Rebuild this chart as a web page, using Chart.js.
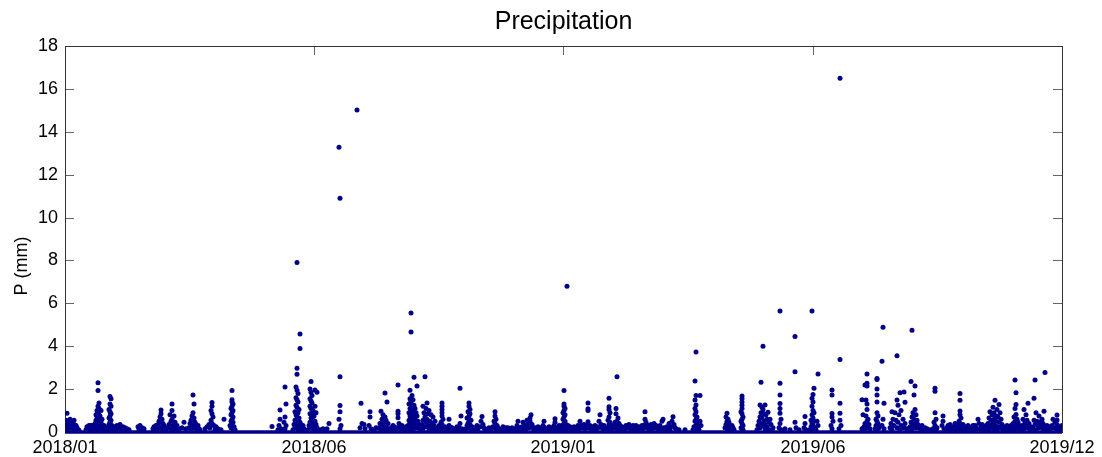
<!DOCTYPE html>
<html lang="en">
<head>
<meta charset="UTF-8">
<title>Precipitation</title>
<script src="https://cdn.jsdelivr.net/npm/chart.js"></script>
<style>
  body { margin: 0; background: #fff; }
</style>
</head>
<body>
<canvas id="grafico" width="1102" height="457"></canvas>

<script>
// eixo x: indice de tempo (0..997), rotulos em 5 posicoes iguais
const tickPos = [0, 249, 498, 748, 997];
const tickLabels = ['2018/01', '2018/06', '2019/01', '2019/06', '2019/12'];
const yTicks = [0, 2, 4, 6, 8, 10, 12, 14, 16, 18];

// horas secas (faixa em P = 0)
const dryHours = [[0, 0], [997, 0]];

// chuva: [t, P em mm]
const rainJanMay18 = [
  [0,0.3],[1,0.55],[2,0.87],[2,0.15],[3,0.45],[4,0.3],[5,0.6],[6,0.2],[7,0.5],[8,0.15],[9,0.35],[10,0.1],[11,0.3],[12,0.2],[13,0.12],[14,0.08],[3,0.1],[6,0.4],[9,0.55],[8,0.3],
  [21,0.1],[22,0.25],[24,0.3],[25,0.1],[26,0.2],[28,0.15],
  [26,0.3],[27,0.3],[28,0.1],[29,0.25],[30,0.4],[31,0.15],[31,0.55],[31,0.8],[32,0.3],[32,0.7],[32,1.0],[33,2.3],[33,1.93],[33,1.2],[33,0.9],[33,0.5],[34,1.35],[34,1.1],[34,0.8],[34,0.35],[35,0.2],[35,0.6],[35,0.75],[36,0.1],[36,0.45],[36,1.0],[37,0.3],[38,0.15],[39,0.3],[40,0.2],[30,0.1],[34,0.15],[37,0.6],
  [42,0.1],[43,0.25],[44,0.35],[44,0.65],[44,1.05],[45,1.65],[45,1.3],[45,0.95],[45,0.75],[45,0.45],[45,0.1],[46,1.55],[46,1.2],[46,0.85],[46,0.55],[46,0.2],[47,0.3],[48,0.15],
  [50,0.25],[51,0.1],[52,0.3],[54,0.2],[55,0.35],[56,0.15],[58,0.25],[59,0.1],[60,0.2],[62,0.15],[64,0.1],
  [73,0.25],[74,0.1],[75,0.3],[77,0.2],[78,0.1],[79,0.15],
  [88,0.15],[89,0.25],[91,0.3],[92,0.1],[93,0.35],[94,0.5],[94,0.25],[95,0.7],[95,0.2],[96,1.03],[96,0.85],[96,0.45],[97,0.6],[97,0.15],[98,0.4],[99,0.3],[100,0.2],[101,0.1],
  [103,0.2],[104,0.35],[105,0.8],[106,0.5],[106,0.15],[107,1.3],[107,1.0],[107,0.6],[108,0.3],[109,0.75],[109,0.1],[110,0.45],[111,0.2],[112,0.3],[113,0.1],[114,0.15],
  [117,0.2],[119,0.45],[121,0.15],
  [124,0.2],[125,0.4],[126,0.55],[126,0.1],[127,0.75],[127,0.3],[128,1.72],[128,0.9],[128,0.5],[129,1.3],[129,0.65],[129,0.2],[130,0.45],[131,0.35],[132,0.1],[133,0.3],[134,0.15],[135,0.1],
  [140,0.15],[142,0.25],[144,0.35],[145,0.2],[146,1.0],[146,0.55],[147,1.37],[147,1.2],[147,0.85],[147,0.4],[148,0.7],[149,0.3],[150,0.1],[151,0.25],[153,0.15],[156,0.1],[159,0.6],
  [165,0.3],[166,1.1],[166,0.8],[166,0.5],[166,0.2],[167,1.93],[167,1.5],[167,1.4],[167,1.2],[167,0.9],[167,0.6],[167,0.35],[168,1.3],[168,1.0],[168,0.7],[168,0.45],[168,0.15],[169,0.25],[170,0.1],
  [207,0.26]
];

const rainJunAug18 = [
  [213,0.1],[214,0.3],[215,1.03],[215,0.6],[216,0.15],[219,0.45],[220,2.1],[220,0.7],[220,0.15],[221,1.3],[221,0.3],
  [228,0.1],[229,0.35],[230,0.95],[230,0.55],[230,0.2],[231,2.1],[231,1.6],[231,1.25],[231,0.8],[231,0.4],[232,7.9],[232,2.97],[232,2.69],[232,1.95],[232,1.5],[232,1.15],[232,0.7],[232,0.3],[233,1.8],[233,1.4],[233,0.9],[233,0.5],[233,0.15],[234,1.05],[234,0.65],[234,0.25],[235,4.57],[235,3.89],[235,0.45],[236,0.35],[236,0.1],[237,0.2],[238,0.3],[239,0.15],
  [243,0.1],[244,0.3],[245,2.0],[245,1.55],[245,1.2],[245,0.85],[245,0.45],[246,2.35],[246,1.85],[246,1.45],[246,1.1],[246,0.65],[246,0.2],[247,1.7],[247,1.35],[247,0.9],[247,0.4],[248,1.0],[248,0.55],[248,0.15],[249,0.75],[249,0.3],[250,1.96],[250,1.2],[250,0.5],[251,0.9],[251,0.35],[251,0.1],[252,1.85],[252,0.2],
  [255,0.1],[258,0.15],[262,0.15],[264,0.4],
  [274,13.28],[274,0.6],[275,10.9],[275,2.58],[275,1.23],[275,0.95],[275,0.15],[276,0.3],
  [292,15.02],
  [295,0.2],[296,1.34],[297,0.4],[299,0.35],[300,0.15],
  [304,0.3],[305,0.95],[305,0.7],[306,0.15],[309,0.1],[311,0.2],
  [314,0.2],[315,0.4],[316,0.97],[316,0.1],[317,0.6],[318,0.8],[318,0.3],[319,0.45],[320,1.82],[320,0.7],[320,0.15],[321,0.55],[321,0.25],[322,1.4],[322,0.1],[323,0.4],[324,0.15],
  [326,0.2],[327,0.15],[328,0.3],[329,0.25],[330,0.2],[331,0.1],
  [332,0.2],[333,2.19],[333,0.97],[333,0.85],[333,0.67],[334,0.4],
  [335,0.25],[336,0.15],[337,0.3],[338,0.15],[339,0.1],[340,0.2],[341,0.25],[342,0.1],
  [343,0.3],[344,1.3],[344,0.9],[344,0.55],[344,0.15],[345,1.95],[345,1.55],[345,1.1],[345,0.75],[345,0.45],[346,5.55],[346,4.66],[346,1.4],[346,1.0],[346,0.65],[346,0.25],[347,1.7],[347,1.2],[347,0.8],[347,0.35],[348,1.5],[348,0.95],[348,0.5],[348,0.1],[349,2.55],[349,1.25],[349,0.7],[349,0.3],[350,1.1],[350,0.6],[350,0.2],[351,0.9],[351,0.4],[352,2.15],[352,0.75],[352,0.2],[353,0.5],[354,0.35],[355,0.15]
];

const rainSepDec18 = [
  [357,0.35],[358,1.2],[358,0.55],[358,0.15],[359,0.9],[360,2.58],[360,0.7],[360,0.25],[361,1.1],[361,0.45],[362,1.35],[362,0.6],[363,0.85],[363,0.3],[364,1.0],[364,0.1],[365,0.5],[366,0.8],[366,0.2],[367,0.4],[368,0.7],[368,0.1],[369,0.3],[370,0.5],[371,0.2],[372,0.1],
  [374,0.3],[376,0.45],[376,0.15],[377,1.35],[377,1.2],[377,1.05],[377,0.9],[377,0.75],[377,0.35],[378,0.6],[378,0.2],[380,0.25],[381,0.1],
  [383,0.15],[384,0.6],[384,0.3],[386,0.2],[387,0.2],[388,0.1],[389,0.15],
  [390,0.1],[392,0.25],[393,0.1],[394,0.2],[395,2.04],[395,0.4],[396,0.75],[397,0.15],[398,0.1],
  [400,0.1],[401,0.15],[402,0.65],[402,0.3],[403,0.95],[403,0.4],[404,1.35],[404,1.2],[404,0.75],[404,0.5],[404,0.2],[405,1.05],[405,0.85],[405,0.35],[406,0.55],[406,0.1],[407,0.25],[409,0.15],
  [410,0.2],[411,0.1],[412,0.3],[413,0.15],[415,0.25],[416,0.5],[417,0.72],[418,0.35],[419,0.2],[420,0.15],[421,0.1],[423,0.1],[424,0.2],
  [426,0.1],[427,0.2],[428,0.25],[429,0.5],[430,0.95],[430,0.75],[430,0.4],[431,0.6],[431,0.15],[432,0.3],[433,0.2],[434,0.1],[435,0.1],
  [437,0.15],[438,0.25],[440,0.1],[441,0.2],[443,0.2],[444,0.15],[446,0.1],[447,0.2],[449,0.1],
  [450,0.15],[452,0.3],[453,0.5],[454,0.15],[455,0.2],[456,0.1],[457,0.25],[458,0.45],[459,0.15],[460,0.3],[461,0.15],[462,0.55],[463,0.4],[464,0.2],[465,0.65],[465,0.5],[466,0.8],[467,0.35],[468,0.2],[469,0.1],
  [470,0.2],[472,0.15],[473,0.25],[475,0.1],[476,0.2],[477,0.1],[478,0.3],[479,0.5],[480,0.2],[481,0.1],[482,0.15],[484,0.25],[485,0.1],[486,0.2],
  [487,0.15],[488,0.1],[489,0.3],[490,0.62],[490,0.45],[491,0.2],[492,0.15],[493,0.1],[494,0.3],[495,0.2]
];

const rainJanMay19 = [
  [496,0.1],[497,0.3],[498,0.9],[498,0.6],[498,0.15],[499,1.93],[499,1.3],[499,1.2],[499,1.0],[499,0.7],[499,0.4],[500,1.1],[500,0.8],[500,0.5],[500,0.25],[501,0.35],[502,6.8],[502,0.15],
  [503,0.3],[504,0.2],[505,0.25],[506,0.15],[507,0.2],[508,0.1],[509,0.25],[510,0.2],
  [511,0.1],[512,0.2],[513,0.3],[514,0.15],[515,0.5],[516,0.3],[517,0.2],[518,0.25],[519,0.35],[520,0.15],[521,0.2],[522,0.3],[523,1.35],[523,1.08],[523,1.0],[523,0.48],[524,0.2],[525,0.3],[526,0.1],[527,0.25],[528,0.15],[529,0.2],[530,0.3],
  [531,0.1],[532,0.25],[533,0.2],[534,0.5],[535,0.8],[536,0.35],[537,0.2],[538,0.15],[539,0.3],[540,0.1],[541,0.15],
  [542,0.2],[543,0.55],[543,0.1],[544,1.57],[544,1.18],[544,1.05],[544,0.7],[544,0.35],[545,0.9],[545,0.45],[546,0.25],[547,0.15],[548,0.3],
  [549,0.2],[550,0.45],[551,1.1],[551,0.85],[551,0.3],[552,2.58],[552,0.5],[552,0.1],[553,0.65],[553,0.2],[554,0.4],[555,0.3],[556,0.15],[557,0.25],[558,0.1],[559,0.2],
  [560,0.15],[561,0.3],[562,0.25],[563,0.2],[564,0.35],[565,0.15],[566,0.1],[567,0.2],[568,0.3],[569,0.15],[570,0.2],[571,0.3],[572,0.1],[573,0.15],[574,0.25],[575,0.1],[576,0.2],[577,0.3],
  [578,0.15],[579,0.3],[580,0.95],[580,0.6],[581,0.45],[582,0.2],[583,0.3],[584,0.1],[585,0.2],[586,0.35],
  [587,0.15],[588,0.25],[589,0.4],[590,0.2],[591,0.3],[592,0.25],[593,0.1],[594,0.2],[595,0.3],[596,0.15],[597,0.5],[598,0.6],[599,0.2],[600,0.1],[601,0.2],[602,0.25],[603,0.15],
  [604,0.4],[605,0.1],[606,0.25],[607,0.5],[608,0.71],[609,0.35],[610,0.2],[611,0.15],[614,0.1],[620,0.1],
  [628,0.1],[629,0.25],[630,2.38],[630,1.49],[630,1.1],[630,0.8],[630,0.5],[630,0.15],[631,3.73],[631,1.7],[631,1.26],[631,0.95],[631,0.6],[631,0.3],[632,0.7],[632,0.4],[633,0.2],[634,0.1],[635,1.7],[635,0.5],[636,0.3],
  [660,0.2],[661,0.7],[661,0.35],[662,0.87],[662,0.5],[662,0.15],[663,0.6],[663,0.3],[664,0.45],[664,0.1],[665,0.25],[666,0.15],[667,0.3],[668,0.2],[669,0.1],
  [676,0.95],[676,0.5],[676,0.2],[677,1.68],[677,1.55],[677,1.4],[677,1.25],[677,1.1],[677,0.85],[677,0.6],[677,0.4],[677,0.15],[678,0.7],[678,0.3],[678,0.1],
  [692,0.1],[693,0.3],[694,0.5],[695,1.26],[695,0.7],[695,0.2],[696,2.32],[696,0.9],[696,0.4],[697,1.15],[697,0.65],[698,4.0],[698,1.05],[698,0.3],[699,0.85],[699,0.5],[700,1.26],[700,0.35],[700,0.15],[701,0.8],[702,0.6],[702,0.25],[703,0.92],[704,0.45],[704,0.1],[705,0.6],[706,0.35],[707,0.1],[708,0.2],
  [714,0.2],[715,5.64],[715,2.27],[715,1.72],[715,1.33],[715,1.1],[715,0.87],[715,0.4],[716,0.6],[716,0.1],
  [720,0.15],[725,0.1],[730,4.45],[730,2.81],[730,0.45],[731,0.2],[734,0.1],
  [739,0.2],[740,0.72],[740,0.4]
];

const rainJunAug19 = [
  [741,0.1],[745,0.1],[746,0.55],[746,0.25],[747,5.64],[747,1.57],[747,1.2],[747,0.8],[747,0.4],[747,0.15],[748,1.75],[748,1.4],[748,1.0],[748,0.65],[748,0.3],[749,2.04],[749,0.9],[749,0.5],[750,0.2],[751,0.1],[752,0.5],[753,2.7],[753,0.3],
  [766,0.3],[767,1.96],[767,1.72],[767,0.86],[767,0.7],[767,0.15],[768,0.5],
  [774,0.15],[775,16.5],[775,3.38],[775,1.34],[775,0.87],[775,0.55],[776,0.3],
  [797,0.15],[797,1.5],[798,0.8],[799,0.25],[800,2.19],[800,0.4],[800,0.1],[801,1.49],[801,0.75],[801,0.3],[802,2.7],[802,2.27],[802,2.15],[802,1.3],[802,1.05],[802,0.5],[803,0.6],[803,0.2],[804,0.35],[805,0.15],
  [810,0.15],[811,0.6],[811,0.3],[812,2.5],[812,2.45],[812,2.0],[812,1.73],[812,1.4],[812,0.9],[812,0.5],[812,0.1],[813,0.75],[813,0.4],[814,0.2],
  [817,3.3],[817,0.3],[818,4.88],[818,0.6],[819,1.34],[819,0.15],
  [825,0.2],[826,0.4],[827,0.95],[827,0.1],[828,0.6],[829,0.3],[830,0.9],[831,0.55],[832,3.55],[832,1.49],[832,0.2],[833,1.25],[833,0.45],[834,0.8],[835,1.83],[835,0.1],[836,1.0],[836,0.3],[838,0.6],[839,1.87],[839,0.2],[840,1.39],[840,0.4],[842,0.15],
  [844,0.1],[845,0.25],[846,2.35],[846,0.45],[847,4.75],[847,0.7],[847,0.15],[848,0.9],[848,0.3],[849,1.73],[849,0.6],[850,2.15],[850,1.05],[850,0.4],[851,0.8],[851,0.2],[852,0.55],[853,0.35],[854,0.2],[856,0.1],
  [857,0.3],[858,0.1],[860,0.2],[862,0.15],[865,0.1],
  [868,0.15],[869,0.45],[870,2.04],[870,1.9],[870,0.9],[870,0.3],[871,0.6],[871,0.1],[872,0.2],
  [877,0.3],[878,0.75],[878,0.5],[879,0.15],
  [880,0.1],[882,0.2],[883,0.3],[884,0.1],[885,0.35],[886,0.2],[887,0.1],[888,0.25],[889,0.15],[890,0.4],[891,0.15],[892,0.3],[893,0.1],
  [894,0.5],[894,0.2],[895,1.8],[895,1.48],[895,0.98],[895,0.8],[895,0.4],[896,0.65],[896,0.3],[896,0.1],[897,0.2],[898,0.35],[899,0.15]
];

const rainSepDec19 = [
  [900,0.25],[901,0.1],[902,0.2],[903,0.3],[904,0.25],[905,0.15],[906,0.1],[907,0.2],[908,0.3],[909,0.15],[910,0.3],[911,0.2],[912,0.1],[913,0.6],[914,0.4],[915,0.15],[916,0.25],[917,0.35],[918,0.15],[919,0.25],[920,0.1],[921,0.3],
  [922,0.2],[923,0.4],[924,0.65],[924,0.1],[925,0.95],[925,0.3],[926,0.55],[927,0.8],[927,0.2],[928,1.15],[928,0.4],[929,0.9],[929,0.6],[929,0.15],[930,1.48],[930,0.3],[931,0.75],[931,0.5],[932,1.05],[932,0.1],[933,0.7],[933,0.25],[934,1.28],[934,0.45],[935,0.9],[935,0.2],[936,0.6],[937,0.35],[938,0.1],
  [939,0.25],[940,0.15],[941,0.2],[942,0.3],[943,0.2],[944,0.1],[945,0.25],[946,0.3],
  [947,0.15],[948,0.4],[949,0.7],[949,0.25],[950,2.43],[950,1.1],[950,0.5],[950,0.1],[951,1.83],[951,1.28],[951,0.82],[951,0.35],[952,0.6],[952,0.2],[953,0.45],[954,0.3],[955,0.1],[956,0.2],
  [957,0.3],[958,0.6],[959,1.05],[959,0.15],[960,0.45],[961,0.8],[961,0.3],[962,0.55],[963,1.34],[963,0.2],[964,0.4],[965,0.1],[966,0.25],[967,0.15],
  [968,0.2],[969,1.57],[969,0.55],[970,2.43],[970,0.35],[971,0.9],[971,0.1],[972,0.5],[973,0.3],[974,0.75],[974,0.2],[975,0.45],[976,0.3],[977,0.6],[978,0.4],[978,0.15],[979,0.97],[980,2.77],[980,0.25],[981,0.1],
  [982,0.3],[983,0.2],[984,0.25],[985,0.1],[986,0.2],[987,0.3],[988,0.6],[989,0.2],[990,0.45],[991,0.15],[992,0.79],[992,0.56],[992,0.35],[993,0.15],[994,0.25],[995,0.1],[996,0.2],[997,0.3]
];

const azul = '#00008B';
const fonte = "'Liberation Sans', Arial, sans-serif";

function pontos(lista) {
  return lista.map(p => ({ x: p[0], y: p[1] }));
}

const todaChuva = [].concat(rainJanMay18, rainJunAug18, rainSepDec18, rainJanMay19, rainJunAug19, rainSepDec19);

// caixa do eixo, ticks para dentro e rotulo do eixo y (estilo MATLAB)
const caixaEixos = {
  id: 'caixaEixos',
  beforeDatasetsDraw(chart) {
    const { ctx, chartArea: a, scales: { x, y } } = chart;
    ctx.save();
    ctx.lineWidth = 1;
    ctx.strokeStyle = '#666';
    ctx.beginPath();
    y.ticks.forEach(t => {
      const py = Math.round(y.getPixelForValue(t.value)) + 0.5;
      ctx.moveTo(a.left, py); ctx.lineTo(a.left + 9, py);
      ctx.moveTo(a.right, py); ctx.lineTo(a.right - 9, py);
    });
    x.ticks.forEach(t => {
      const px = Math.round(x.getPixelForValue(t.value)) + 0.5;
      ctx.moveTo(px, a.top); ctx.lineTo(px, a.top + 9);
      ctx.moveTo(px, a.bottom); ctx.lineTo(px, a.bottom - 9);
    });
    ctx.stroke();
    ctx.strokeStyle = '#333';
    ctx.strokeRect(a.left + 0.5, a.top + 0.5, a.right - a.left, a.bottom - a.top);

    // rotulo "P (mm)"
    ctx.translate(22, 266);
    ctx.rotate(-Math.PI / 2);
    ctx.fillStyle = '#000';
    ctx.font = '18px ' + fonte;
    ctx.textAlign = 'center';
    ctx.textBaseline = 'middle';
    ctx.fillText('P (mm)', 0, 0);
    ctx.restore();
  }
};

new Chart(document.getElementById('grafico'), {
  type: 'scatter',
  data: {
    datasets: [
      {
        label: 'seco',
        data: pontos(dryHours),
        showLine: true,
        borderColor: azul,
        borderWidth: 3.5,
        pointRadius: 0,
        clip: { left: 0, top: 0, right: 0, bottom: 4 }
      },
      {
        label: 'P',
        data: pontos(todaChuva),
        backgroundColor: azul,
        borderWidth: 0,
        pointRadius: 2.5,
        pointStyle: 'circle',
        clip: { left: 0, top: 0, right: 0, bottom: 4 }
      }
    ]
  },
  options: {
    responsive: false,
    devicePixelRatio: 1,
    animation: false,
    layout: { padding: { left: 0, right: 40, top: 0, bottom: 0 } },
    plugins: {
      legend: { display: false },
      tooltip: { enabled: false },
      title: {
        display: true,
        fullSize: false,
        text: 'Precipitation',
        color: '#000',
        font: { family: fonte, size: 25, weight: 'normal', lineHeight: 1.2 },
        padding: { top: 7, bottom: 9 }
      }
    },
    scales: {
      x: {
        type: 'linear',
        min: 0,
        max: 997,
        grid: { display: false, drawTicks: false },
        border: { display: false },
        afterBuildTicks: s => { s.ticks = tickPos.map(v => ({ value: v })); },
        afterFit: s => { s.height = 25; },
        ticks: {
          autoSkip: false,
          maxRotation: 0,
          padding: 5,
          color: '#000',
          font: { family: fonte, size: 18 },
          callback: (v, i) => tickLabels[i]
        }
      },
      y: {
        min: 0,
        max: 18,
        grid: { display: false, drawTicks: false },
        border: { display: false },
        afterBuildTicks: s => { s.ticks = yTicks.map(v => ({ value: v })); },
        afterFit: s => { s.width = 65; },
        ticks: {
          padding: 7,
          color: '#000',
          font: { family: fonte, size: 18 }
        }
      }
    }
  },
  plugins: [caixaEixos]
});
</script>
</body>
</html>
